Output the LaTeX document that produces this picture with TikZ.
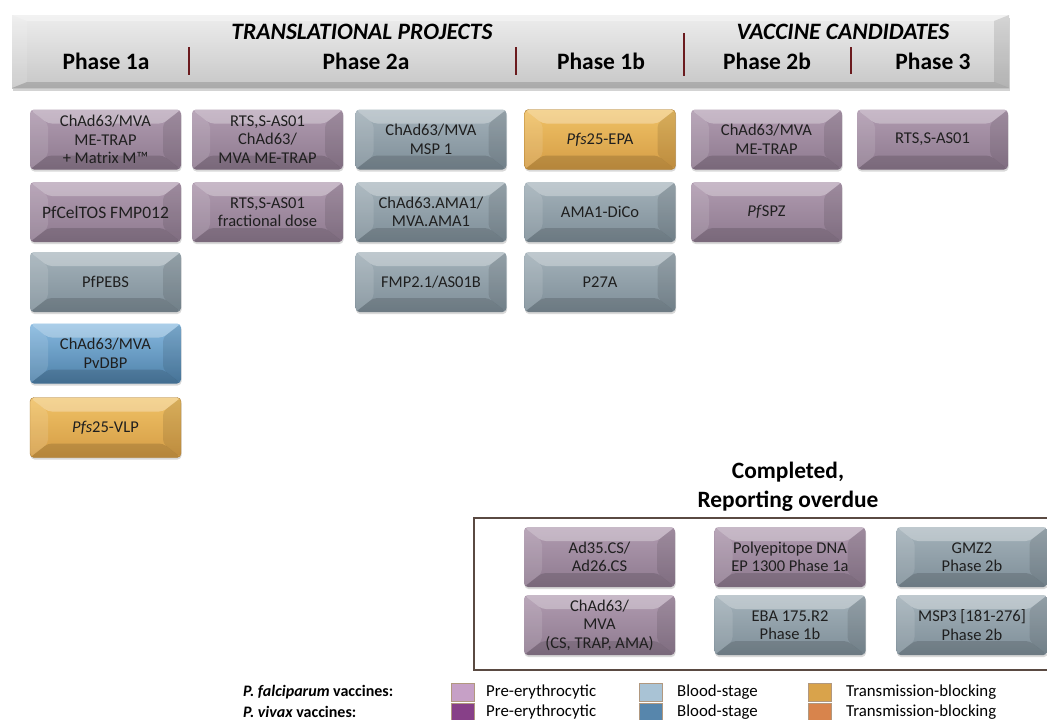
\documentclass[tikz,border=0pt]{standalone}
\usepackage{fontspec}
\setmainfont{Carlito}
\usepackage{tikz}
\usetikzlibrary{shapes,arrows,shadows,calc}

\definecolor{preC}{HTML}{8E7A8F}
\definecolor{preT}{HTML}{B09BB0}
\definecolor{bloodC}{HTML}{7E8E98}
\definecolor{bloodT}{HTML}{A4B2BA}
\definecolor{vivC}{HTML}{4E80A8}
\definecolor{vivT}{HTML}{86B9E0}
\definecolor{transC}{HTML}{D49C45}
\definecolor{transT}{HTML}{F0C266}
\definecolor{divC}{HTML}{6B1B1E}
\definecolor{frameC}{HTML}{5A4A42}
\definecolor{pfpre}{HTML}{C6A0C6}
\definecolor{pfblood}{HTML}{A9C3D5}
\definecolor{pftrans}{HTML}{D9A34B}
\definecolor{pvpre}{HTML}{874088}
\definecolor{pvblood}{HTML}{5786AC}
\definecolor{pvtrans}{HTML}{D8844C}

\tikzset{
  bevelface/.style 2 args={path picture={
    \coordinate (bnw) at (path picture bounding box.north west);
    \coordinate (bne) at (path picture bounding box.north east);
    \coordinate (bsw) at (path picture bounding box.south west);
    \coordinate (bse) at (path picture bounding box.south east);
    \fill[white,opacity=.30] (bnw) -- (bne) -- ($(bne)+(-#1,-#2)$) -- ($(bnw)+(#1,-#2)$) -- cycle;
    \fill[white,opacity=.12] (bnw) -- (bsw) -- ($(bsw)+(#1,#2)$) -- ($(bnw)+(#1,-#2)$) -- cycle;
    \fill[black,opacity=.10] (bne) -- (bse) -- ($(bse)+(-#1,#2)$) -- ($(bne)+(-#1,-#2)$) -- cycle;
    \fill[black,opacity=.14] (bsw) -- (bse) -- ($(bse)+(-#1,#2)$) -- ($(bsw)+(#1,#2)$) -- cycle;
  }},
  vacbox/.style={rounded corners=4pt, minimum width=151pt, minimum height=60pt,
    align=center, inner sep=2pt, text=black!88,
    font=\fontsize{16.5}{18.5}\selectfont,
    drop shadow={shadow xshift=0.5pt,shadow yshift=-2pt,opacity=.3},
    bevelface={18pt}{14pt}},
  pre/.style={vacbox, top color=preT, bottom color=preC},
  blood/.style={vacbox, top color=bloodT, bottom color=bloodC},
  vivblood/.style={vacbox, top color=vivT, bottom color=vivC},
  transb/.style={vacbox, top color=transT, bottom color=transC, draw=transC!80!black, line width=.4pt},
  band/.style={minimum width=997pt, minimum height=73pt, inner sep=0pt,
    top color=black!7, bottom color=black!22,
    drop shadow={shadow xshift=1pt,shadow yshift=-2.5pt,opacity=.35},
    bevelface={15pt}{6pt}},
  headfont/.style={font=\fontsize{23.5}{27}\selectfont\bfseries},
  divider/.style={divC, line width=2.2pt},
  swatch/.style={minimum width=23pt, minimum height=18pt, inner sep=0pt, draw=black!35!brown!60, line width=.6pt},
  legtext/.style={anchor=west, inner sep=0pt, font=\fontsize{16.8}{18}\selectfont}
}

\begin{document}
\begin{tikzpicture}[x=1pt,y=-1pt]
\useasboundingbox (0,0) rectangle (1047,720);

\node[band] (head) at (510.5,51.5) {};
\node[headfont] (tp) at (362,32) {\itshape TRANSLATIONAL PROJECTS};
\node[headfont] (vc) at (843,32) {\itshape VACCINE CANDIDATES};
\node[headfont] (h1a) at (106,61) {Phase 1a};
\node[headfont] (h2a) at (366,61) {Phase 2a};
\node[headfont] (h1b) at (601,61) {Phase 1b};
\node[headfont] (h2b) at (767,61) {Phase 2b};
\node[headfont] (h3) at (933,61) {Phase 3};
\draw[divider] (189,47) -- (189,75);
\draw[divider] (516,47) -- (516,75);
\draw[divider] (684,33) -- (684,76);
\draw[divider] (851,47) -- (851,74);

\node[pre] (a1) at (105.5,139.5) {ChAd63/MVA\\ME-TRAP\\+ Matrix M™};
\node[pre, font=\fontsize{17.5}{20}\selectfont] (a2) at (105.5,212) {PfCelTOS FMP012};
\node[blood] (a3) at (105.5,282) {PfPEBS};
\node[vivblood] (a4) at (105.5,353.5) {ChAd63/MVA\\PvDBP};
\node[transb] (a5) at (105.5,427.5) {\textit{Pfs}25-VLP};

\node[pre] (b1) at (267.5,139.5) {RTS,S-AS01\\ChAd63/\\MVA ME-TRAP};
\node[pre] (b2) at (267.5,212) {RTS,S-AS01\\fractional dose};

\node[blood] (c1) at (431,139.5) {ChAd63/MVA\\MSP 1};
\node[blood] (c2) at (431,212) {ChAd63.AMA1/\\MVA.AMA1};
\node[blood] (c3) at (431,282) {FMP2.1/AS01B};

\node[transb] (d1) at (600,139.5) {\textit{Pfs}25-EPA};
\node[blood] (d2) at (600,212) {AMA1-DiCo};
\node[blood] (d3) at (600,282) {P27A};

\node[pre] (e1) at (766.5,139.5) {ChAd63/MVA\\ME-TRAP};
\node[pre] (e2) at (766.5,212) {\textit{Pf}SPZ};

\node[pre] (f1) at (932.5,139.5) {RTS,S-AS01};

\node[font=\fontsize{23.4}{29}\selectfont\bfseries, align=center] (done) at (788,487) {Completed,\\Reporting overdue};
\draw[frameC, line width=1.3pt] (474,518) rectangle (1053,670);

\node[pre] (g1) at (599.5,557) {Ad35.CS/\\Ad26.CS};
\node[pre] (g2) at (599.5,625) {ChAd63/\\MVA\\(CS, TRAP, AMA)};
\node[pre] (h1) at (790,557) {Polyepitope DNA\\EP 1300 Phase 1a};
\node[blood] (h2) at (790,625) {EBA 175.R2\\Phase 1b};
\node[blood] (k1) at (972,557) {GMZ2\\Phase 2b};
\node[blood] (k2) at (972,625) {MSP3 [181-276]\\Phase 2b};

\node[legtext, font=\fontsize{16}{18}\selectfont] (pf) at (243,692) {\bfseries\itshape P. falciparum\upshape\ vaccines:};
\node[legtext, font=\fontsize{16}{18}\selectfont] (pv) at (243,712) {\bfseries\itshape P. vivax\upshape\ vaccines:};
\node[swatch, fill=pfpre] (s1) at (462.5,692) {};
\node[swatch, fill=pvpre] (s2) at (462.5,712) {};
\node[swatch, fill=pfblood] (s3) at (651,692) {};
\node[swatch, fill=pvblood] (s4) at (651,712) {};
\node[swatch, fill=pftrans] (s5) at (820,692) {};
\node[swatch, fill=pvtrans] (s6) at (820,712) {};
\node[legtext] (t1) at (486,692) {Pre-erythrocytic};
\node[legtext] (t2) at (486,712) {Pre-erythrocytic};
\node[legtext] (t3) at (677,692) {Blood-stage};
\node[legtext] (t4) at (677,712) {Blood-stage};
\node[legtext] (t5) at (846,692) {Transmission-blocking};
\node[legtext] (t6) at (846,712) {Transmission-blocking};

\end{tikzpicture}
\end{document}
